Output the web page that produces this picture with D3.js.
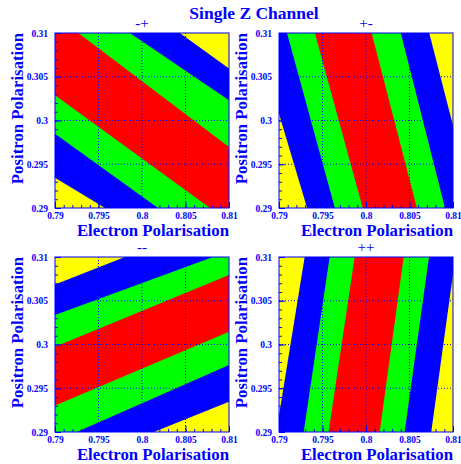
<!DOCTYPE html>
<html>
<head>
<meta charset="utf-8">
<script src="https://cdn.jsdelivr.net/npm/d3@7"></script>
<style>
  body { margin: 0; background: #fff; }
  text { font-family: "Liberation Serif", "DejaVu Serif", serif; fill: #0000ff; }
</style>
</head>
<body>
<div id="chart"></div>
<script>
const width = 461;
const height = 464;

const chartTitle = "Single Z Channel";
const xTitle = "Electron Polarisation";
const yTitle = "Positron Polarisation";
const xDomain = [0.79, 0.81];
const yDomain = [0.29, 0.31];
const xTicks = [0.79, 0.795, 0.8, 0.805, 0.81];
const yTicks = [0.29, 0.295, 0.3, 0.305, 0.31];
const bandColors = ["#ffff00", "#0000ff", "#00ff00", "#ff0000", "#00ff00", "#0000ff", "#ffff00"];

const panelNames = ["-+", "+-", "--", "++"];
// band boundaries, each a straight line through two (electron, positron) points,
// listed from the first yellow corner towards the last one
const boundsMP = [
    [[0.79, 0.29346], [0.79575, 0.29]],
    [[0.79, 0.2985], [0.80184, 0.29]],
    [[0.79, 0.30288], [0.80782, 0.29]],
    [[0.79268, 0.31], [0.81, 0.29696]],
    [[0.7986, 0.31], [0.81, 0.30231]],
    [[0.80434, 0.31], [0.81, 0.30595]]
];
const boundsPM = [
    [[0.79, 0.30078], [0.79323, 0.29]],
    [[0.79092, 0.31], [0.79642, 0.29]],
    [[0.79412, 0.31], [0.79962, 0.29]],
    [[0.80065, 0.31], [0.80585, 0.29]],
    [[0.804, 0.31], [0.80908, 0.29]],
    [[0.80727, 0.31], [0.81, 0.29943]]
];
const boundsMM = [
    [[0.79, 0.30687], [0.79803, 0.31]],
    [[0.79, 0.30336], [0.80816, 0.31]],
    [[0.79, 0.29973], [0.81, 0.30794]],
    [[0.79, 0.29302], [0.81, 0.30147]],
    [[0.79249, 0.29], [0.81, 0.29766]],
    [[0.80136, 0.29], [0.81, 0.29347]]
];
const boundsPP = [
    [[0.79295, 0.31], [0.79, 0.2919]],
    [[0.79582, 0.31], [0.79284, 0.29]],
    [[0.7987, 0.31], [0.7957, 0.29]],
    [[0.80433, 0.31], [0.80157, 0.29]],
    [[0.80724, 0.31], [0.80444, 0.29]],
    [[0.81, 0.30803], [0.8075, 0.29]]
];
const panelBounds = [boundsMP, boundsPM, boundsMM, boundsPP];
// corner that lies beyond every boundary of the panel
const panelFar = [[0.81, 0.31], [0.81, 0.31], [0.81, 0.29], [0.81, 0.29]];

const panelLeft = [55, 279, 55, 279];
const panelTop = [33, 33, 257, 257];
const pw = 174, ph = 175;

const svg = d3.select("#chart")
    .append("svg")
    .attr("width", width)
    .attr("height", height);

svg.append("text")
    .attr("x", 254)
    .attr("y", 19)
    .attr("text-anchor", "middle")
    .attr("font-size", 17.5)
    .attr("font-weight", "bold")
    .text(chartTitle);

// keep the side of line a-b that contains ref
function clipHalf(poly, a, b, ref) {
    const side = p => (b[0] - a[0]) * (p[1] - a[1]) - (b[1] - a[1]) * (p[0] - a[0]);
    const s = Math.sign(side(ref));
    const out = [];
    for (let i = 0; i < poly.length; i++) {
        const p = poly[i], q = poly[(i + 1) % poly.length];
        const sp = side(p) * s, sq = side(q) * s;
        if (sp >= 0) out.push(p);
        if ((sp >= 0) !== (sq >= 0)) {
            const t = sp / (sp - sq);
            out.push([p[0] + t * (q[0] - p[0]), p[1] + t * (q[1] - p[1])]);
        }
    }
    return out;
}

panelNames.forEach((name, i) => {
    const g = svg.append("g")
        .attr("transform", `translate(${panelLeft[i]},${panelTop[i]})`);

    const x = d3.scaleLinear().domain(xDomain).range([0, pw]);
    const y = d3.scaleLinear().domain(yDomain).range([ph, 0]);

    const rect = [[0, 0], [pw, 0], [pw, ph], [0, ph]];
    const far = [x(panelFar[i][0]), y(panelFar[i][1])];

    g.append("rect")
        .attr("width", pw)
        .attr("height", ph)
        .attr("fill", bandColors[0]);

    panelBounds[i].forEach((b, k) => {
        const a = [x(b[0][0]), y(b[0][1])];
        const c = [x(b[1][0]), y(b[1][1])];
        const poly = clipHalf(rect, a, c, far);
        g.append("path")
            .attr("d", d3.line()(poly) + "Z")
            .attr("fill", bandColors[k + 1]);
    });

    // dotted grid at the inner major ticks
    g.selectAll(".gx")
        .data(xTicks.slice(1, -1))
        .enter().append("line")
        .attr("x1", d => x(d)).attr("x2", d => x(d))
        .attr("y1", 0).attr("y2", ph)
        .attr("stroke", "#0000ff")
        .attr("stroke-width", 1)
        .attr("stroke-dasharray", "1 2");
    g.selectAll(".gy")
        .data(yTicks.slice(1, -1))
        .enter().append("line")
        .attr("y1", d => y(d)).attr("y2", d => y(d))
        .attr("x1", 0).attr("x2", pw)
        .attr("stroke", "#0000ff")
        .attr("stroke-width", 1)
        .attr("stroke-dasharray", "1 2");

    // inward ticks, minor every 0.001
    const xAxis = d3.axisBottom(x)
        .ticks(20)
        .tickSize(-3)
        .tickFormat("");
    g.append("g")
        .attr("transform", `translate(0,${ph})`)
        .call(xAxis)
        .call(s => s.select(".domain").remove())
        .call(s => s.selectAll("line").attr("stroke", "#0000ff"));
    const yAxis = d3.axisLeft(y)
        .ticks(20)
        .tickSize(-3)
        .tickFormat("");
    g.append("g")
        .call(yAxis)
        .call(s => s.select(".domain").remove())
        .call(s => s.selectAll("line").attr("stroke", "#0000ff"));

    // major ticks with labels
    const xMajor = d3.axisBottom(x)
        .tickValues(xTicks)
        .tickSize(-6)
        .tickPadding(4)
        .tickFormat(d3.format("~g"));
    g.append("g")
        .attr("transform", `translate(0,${ph})`)
        .call(xMajor)
        .call(s => s.select(".domain").remove())
        .call(s => s.selectAll("line").attr("stroke", "#0000ff"))
        .call(s => s.selectAll("text")
            .attr("fill", "#0000ff")
            .attr("font-family", "Liberation Serif, serif")
            .attr("font-weight", "bold")
            .attr("font-size", 9.5));
    const yMajor = d3.axisLeft(y)
        .tickValues(yTicks)
        .tickSize(-6)
        .tickPadding(7)
        .tickFormat(d3.format("~g"));
    g.append("g")
        .call(yMajor)
        .call(s => s.select(".domain").remove())
        .call(s => s.selectAll("line").attr("stroke", "#0000ff"))
        .call(s => s.selectAll("text")
            .attr("fill", "#0000ff")
            .attr("font-family", "Liberation Serif, serif")
            .attr("font-weight", "bold")
            .attr("font-size", 9.5));

    g.append("rect")
        .attr("width", pw)
        .attr("height", ph)
        .attr("fill", "none")
        .attr("stroke", "#0000ff")
        .attr("stroke-width", 1);

    g.append("text")
        .attr("x", pw / 2)
        .attr("y", -5)
        .attr("text-anchor", "middle")
        .attr("font-size", 15)
        .text(name);

    g.append("text")
        .attr("x", pw)
        .attr("y", ph + 28)
        .attr("text-anchor", "end")
        .attr("font-size", 16.8)
        .attr("font-weight", "bold")
        .text(xTitle);

    g.append("text")
        .attr("transform", `translate(-32,0) rotate(-90)`)
        .attr("text-anchor", "end")
        .attr("font-size", 16.8)
        .attr("font-weight", "bold")
        .text(yTitle);
});
</script>
</body>
</html>
